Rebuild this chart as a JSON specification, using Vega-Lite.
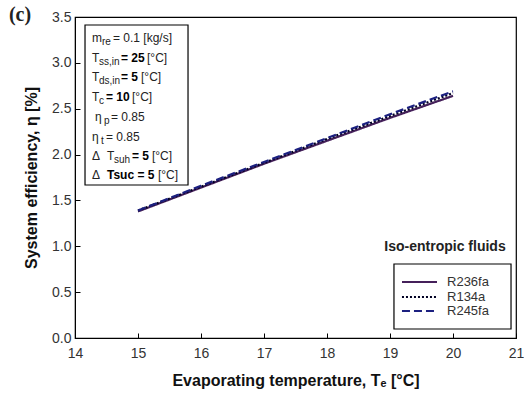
{
  "$schema": "https://vega.github.io/schema/vega-lite/v6.json",
  "width": 441,
  "height": 321,
  "autosize": "none",
  "padding": {"left": 75, "top": 17, "right": 8, "bottom": 61},
  "background": "white",
  "config": {
    "view": {"stroke": "black", "strokeWidth": 1.2},
    "font": "Liberation Sans",
    "axis": {"grid": false, "domainColor": "black", "tickColor": "black", "labelColor": "#333", "labelFontSize": 14, "titleFontSize": 16, "titleFontWeight": "bold", "titleColor": "#111", "labelFont": "Liberation Sans", "titleFont": "Liberation Sans"}
  },
  "datasets": {
    "lines": [
      {"T": 15, "eta": 1.38, "fluid": "R236fa"},
      {"T": 16, "eta": 1.64, "fluid": "R236fa"},
      {"T": 17, "eta": 1.90, "fluid": "R236fa"},
      {"T": 18, "eta": 2.15, "fluid": "R236fa"},
      {"T": 19, "eta": 2.40, "fluid": "R236fa"},
      {"T": 20, "eta": 2.64, "fluid": "R236fa"},
      {"T": 15, "eta": 1.39, "fluid": "R134a"},
      {"T": 16, "eta": 1.65, "fluid": "R134a"},
      {"T": 17, "eta": 1.91, "fluid": "R134a"},
      {"T": 18, "eta": 2.17, "fluid": "R134a"},
      {"T": 19, "eta": 2.42, "fluid": "R134a"},
      {"T": 20, "eta": 2.67, "fluid": "R134a"},
      {"T": 15, "eta": 1.39, "fluid": "R245fa"},
      {"T": 16, "eta": 1.66, "fluid": "R245fa"},
      {"T": 17, "eta": 1.92, "fluid": "R245fa"},
      {"T": 18, "eta": 2.18, "fluid": "R245fa"},
      {"T": 19, "eta": 2.44, "fluid": "R245fa"},
      {"T": 20, "eta": 2.69, "fluid": "R245fa"}
    ],
    "box": [{"x": 14.159, "x2": 15.794, "y": 3.413, "y2": 1.668}],
    "legbox": [{"x": 19.063, "x2": 20.921, "y": 0.807, "y2": 0.098}],
    "leg": [
      {"x": 19.19, "x2": 19.746, "xl": 19.905, "y": 0.611, "fluid": "R236fa"},
      {"x": 19.19, "x2": 19.746, "xl": 19.905, "y": 0.447, "fluid": "R134a"},
      {"x": 19.19, "x2": 19.746, "xl": 19.905, "y": 0.294, "fluid": "R245fa"}
    ],
    "main": [
      {"x": 14.270, "y": 3.272, "t": "m"},
      {"x": 14.603, "y": 3.272, "t": "= 0.1 [kg/s]"},
      {"x": 14.270, "y": 3.053, "t": "T"},
      {"x": 15.143, "y": 3.053, "t": "[°C]"},
      {"x": 14.270, "y": 2.846, "t": "T"},
      {"x": 15.048, "y": 2.846, "t": "[°C]"},
      {"x": 14.270, "y": 2.628, "t": "T"},
      {"x": 14.905, "y": 2.628, "t": "[°C]"},
      {"x": 14.317, "y": 2.410, "t": "η"},
      {"x": 14.571, "y": 2.410, "t": "= 0.85"},
      {"x": 14.270, "y": 2.192, "t": "η"},
      {"x": 14.492, "y": 2.192, "t": "= 0.85"},
      {"x": 14.270, "y": 1.985, "t": "Δ"},
      {"x": 14.508, "y": 1.985, "t": "T"},
      {"x": 15.222, "y": 1.985, "t": "[°C]"},
      {"x": 14.270, "y": 1.778, "t": "Δ"},
      {"x": 15.317, "y": 1.778, "t": "[°C]"}
    ],
    "subs": [
      {"x": 14.429, "y": 3.228, "t": "re"},
      {"x": 14.381, "y": 3.010, "t": "ss,in"},
      {"x": 14.381, "y": 2.803, "t": "ds,in"},
      {"x": 14.381, "y": 2.585, "t": "c"},
      {"x": 14.460, "y": 2.366, "t": "p"},
      {"x": 14.413, "y": 2.148, "t": "t"},
      {"x": 14.619, "y": 1.941, "t": "suh"}
    ],
    "bold": [
      {"x": 14.730, "y": 3.053, "t": "= 25"},
      {"x": 14.730, "y": 2.846, "t": "= 5"},
      {"x": 14.492, "y": 2.628, "t": "= 10"},
      {"x": 14.905, "y": 1.985, "t": "= 5"},
      {"x": 14.508, "y": 1.778, "t": "Tsuc = 5"}
    ],
    "legtitle": [{"x": 19.873, "y": 0.992, "t": "Iso-entropic fluids"}],
    "panel": [{"x": 13.127, "y": 3.52, "t": "(c)"}]
  },
  "layer": [
    {
      "data": {"name": "lines"},
      "mark": {"type": "line", "strokeWidth": 2.2},
      "encoding": {
        "x": {"field": "T", "type": "quantitative", "scale": {"domain": [14, 21]}, "axis": {"values": [14, 15, 16, 17, 18, 19, 20, 21], "format": "d", "tickSize": -5, "labelPadding": 13, "title": "Evaporating temperature, Tₑ [°C]", "titlePadding": 12, "labelFlush": false}},
        "y": {"field": "eta", "type": "quantitative", "scale": {"domain": [0, 3.5]}, "axis": {"values": [0, 0.5, 1, 1.5, 2, 2.5, 3, 3.5], "format": ".1f", "tickSize": -5, "labelPadding": 9, "title": "System efficiency, η [%]", "titlePadding": 12}},
        "color": {"field": "fluid", "type": "nominal", "scale": {"domain": ["R236fa", "R134a", "R245fa"], "range": ["#45205a", "#000022", "#1c2080"]}, "legend": null},
        "strokeDash": {"field": "fluid", "type": "nominal", "scale": {"domain": ["R236fa", "R134a", "R245fa"], "range": [[1, 0], [2, 2], [8, 4]]}, "legend": null}
      }
    },
    {
      "data": {"name": "box"},
      "mark": {"type": "rect", "fill": "white", "stroke": "black", "strokeWidth": 1.2},
      "encoding": {
        "x": {"field": "x", "type": "quantitative"},
        "x2": {"field": "x2"},
        "y": {"field": "y", "type": "quantitative"},
        "y2": {"field": "y2"}
      }
    },
    {
      "data": {"name": "legbox"},
      "mark": {"type": "rect", "fill": "white", "stroke": "black", "strokeWidth": 1.2},
      "encoding": {
        "x": {"field": "x", "type": "quantitative"},
        "x2": {"field": "x2"},
        "y": {"field": "y", "type": "quantitative"},
        "y2": {"field": "y2"}
      }
    },
    {
      "data": {"name": "leg"},
      "mark": {"type": "rule", "strokeWidth": 2},
      "encoding": {
        "x": {"field": "x", "type": "quantitative"},
        "x2": {"field": "x2"},
        "y": {"field": "y", "type": "quantitative"},
        "color": {"field": "fluid", "type": "nominal", "legend": null},
        "strokeDash": {"field": "fluid", "type": "nominal", "legend": null}
      }
    },
    {
      "data": {"name": "leg"},
      "mark": {"type": "text", "align": "left", "baseline": "middle", "fontSize": 13, "color": "#333"},
      "encoding": {
        "x": {"field": "xl", "type": "quantitative"},
        "y": {"field": "y", "type": "quantitative"},
        "text": {"field": "fluid"}
      }
    },
    {
      "data": {"name": "main"},
      "mark": {"type": "text", "align": "left", "baseline": "middle", "fontSize": 12, "color": "#222"},
      "encoding": {
        "x": {"field": "x", "type": "quantitative"},
        "y": {"field": "y", "type": "quantitative"},
        "text": {"field": "t"}
      }
    },
    {
      "data": {"name": "subs"},
      "mark": {"type": "text", "align": "left", "baseline": "middle", "fontSize": 10, "color": "#222"},
      "encoding": {
        "x": {"field": "x", "type": "quantitative"},
        "y": {"field": "y", "type": "quantitative"},
        "text": {"field": "t"}
      }
    },
    {
      "data": {"name": "bold"},
      "mark": {"type": "text", "align": "left", "baseline": "middle", "fontSize": 12, "fontWeight": "bold", "color": "#000"},
      "encoding": {
        "x": {"field": "x", "type": "quantitative"},
        "y": {"field": "y", "type": "quantitative"},
        "text": {"field": "t"}
      }
    },
    {
      "data": {"name": "legtitle"},
      "mark": {"type": "text", "align": "center", "baseline": "middle", "fontSize": 14, "fontWeight": "bold", "color": "#222"},
      "encoding": {
        "x": {"field": "x", "type": "quantitative"},
        "y": {"field": "y", "type": "quantitative"},
        "text": {"field": "t"}
      }
    },
    {
      "data": {"name": "panel"},
      "mark": {"type": "text", "align": "center", "baseline": "middle", "fontSize": 20, "fontWeight": "bold", "font": "Liberation Serif", "color": "#222", "clip": false},
      "encoding": {
        "x": {"field": "x", "type": "quantitative"},
        "y": {"field": "y", "type": "quantitative"},
        "text": {"field": "t"}
      }
    }
  ]
}
